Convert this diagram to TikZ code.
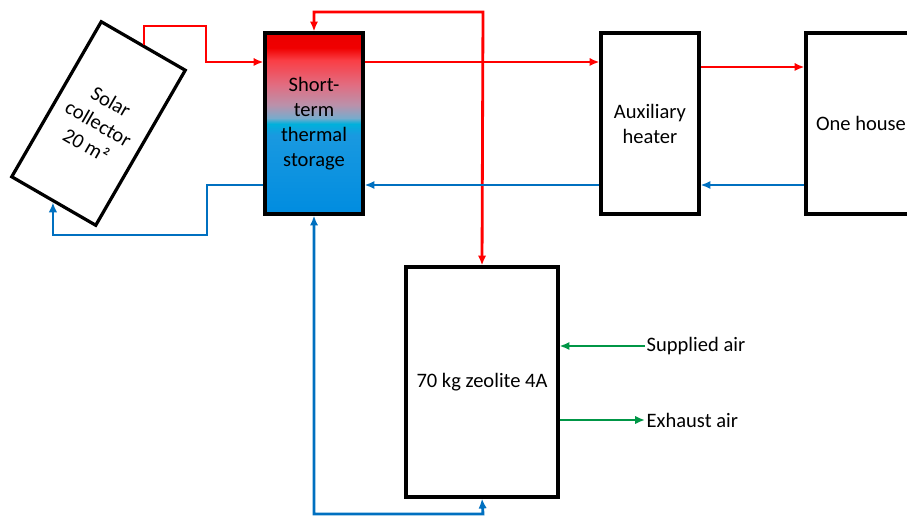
\documentclass[tikz,border=0pt]{standalone}
\usepackage{fontspec}
\setmainfont{Carlito}
\usetikzlibrary{arrows.meta}
\definecolor{hotred}{RGB}{255,0,0}
\definecolor{coldblue}{RGB}{0,112,192}
\definecolor{airgreen}{RGB}{0,150,70}
\pgfdeclareverticalshading{tank}{100bp}{
  rgb(0bp)=(0,0.55,0.88);
  rgb(25bp)=(0,0.55,0.88);
  rgb(46.8bp)=(0.1,0.6,0.88);
  rgb(49.9bp)=(0,0.69,0.86);
  rgb(51.5bp)=(0.47,0.67,0.8);
  rgb(55.1bp)=(0.73,0.57,0.67);
  rgb(60.6bp)=(0.88,0.43,0.51);
  rgb(67.5bp)=(0.98,0.24,0.27);
  rgb(70.9bp)=(0.94,0,0);
  rgb(75bp)=(0.92,0,0);
  rgb(100bp)=(0.92,0,0)}
\tikzset{
  >={Latex[length=7pt,width=6pt]},
  box/.style={draw,line width=2.3pt,align=center,inner sep=0pt},
  hot/.style={draw=hotred,line width=2pt},
  cold/.style={draw=coldblue,line width=2pt},
  air/.style={draw=airgreen,line width=2pt},
  lbl/.style={anchor=west,inner sep=1pt}
}

\begin{document}
\begin{tikzpicture}[x=0.025cm,y=-0.025cm,
    font=\fontsize{14.6}{17.8}\selectfont]
  \useasboundingbox (0,0) rectangle (907,517);
  \clip (0,0) rectangle (907,517);
  \node[box,rotate=-30,minimum width=97*0.025cm,minimum height=179*0.025cm]
    (sc) at (98.5,123.5) {Solar\\collector\\20 m²};
  \node[box,shading=tank,minimum width=98*0.025cm,minimum height=181*0.025cm]
    (st) at (314,123.5) {Short-\\term\\thermal\\storage};
  \node[box,minimum width=98*0.025cm,minimum height=181*0.025cm]
    (aux) at (650,123.5) {Auxiliary\\heater};
  \node[box,minimum width=110*0.025cm,minimum height=181*0.025cm]
    (house) at (861,123.5) {One house};
  \node[box,minimum width=152*0.025cm,minimum height=230*0.025cm]
    (zeo) at (482,382) {70 kg zeolite 4A};
  \node[lbl] (sup) at (645,346) {Supplied air};
  \node[lbl] (exh) at (645,420) {Exhaust air};
  % hot side
  \draw[hot,->] (sc.north) |- (206,26) |- (st.west |- 0,62);
  \draw[hot,<->] (st.north) |- (483,12) -- (zeo.north);
  \draw[hot,->] (st.east |- 0,62) -- (aux.west |- 0,62);
  \draw[hot,->] (aux.east |- 0,67) -- (house.west |- 0,67);
  % cold side
  \draw[cold,->] (house.west |- 0,185) -- (aux.east |- 0,185);
  \draw[cold,->] (aux.west |- 0,185) -- (st.east |- 0,185);
  \draw[cold,->] (st.west |- 0,185) -| (207,235) -| (sc.south);
  \draw[cold,<->] (st.south) |- (483,514) -- (zeo.south);
  % air
  \draw[air,->] (sup.west) -- (zeo.east |- sup.west);
  \draw[air,->] (zeo.east |- exh.west) -- (exh.west);
\end{tikzpicture}
\end{document}
